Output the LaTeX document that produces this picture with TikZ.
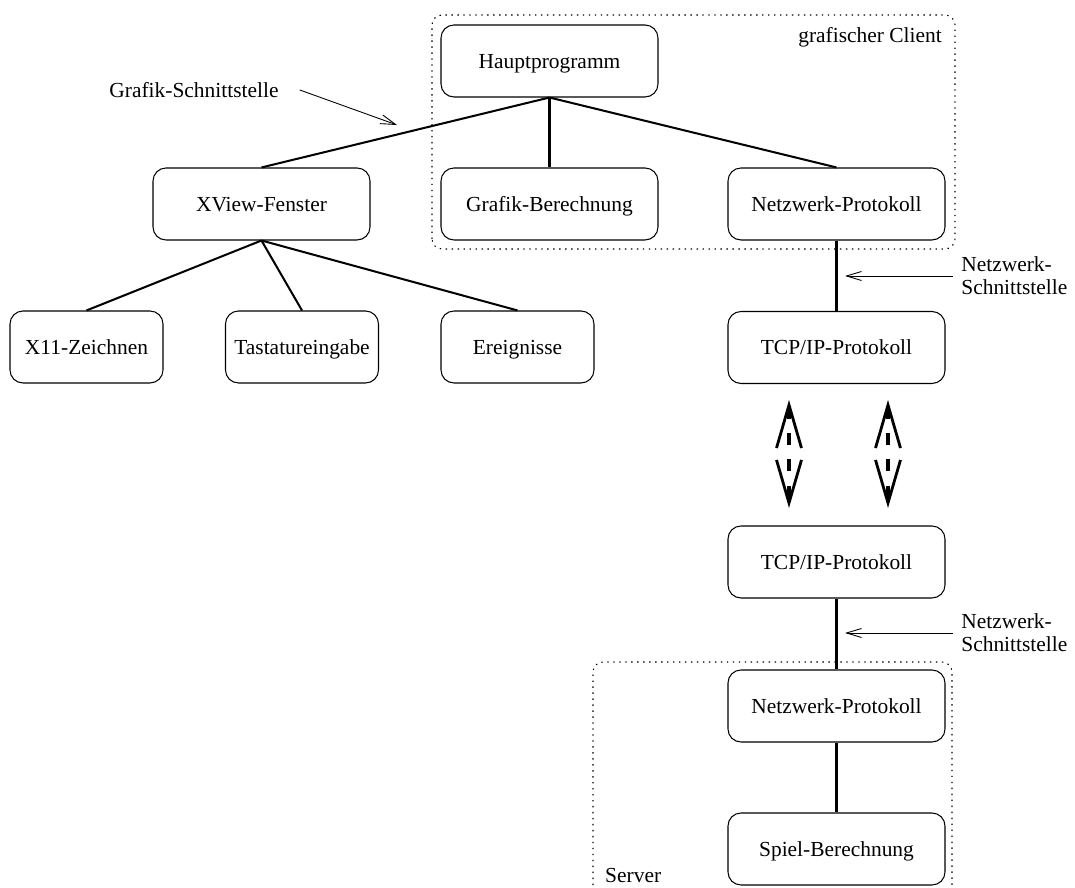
\documentclass[tikz,border=0pt]{standalone}
\usepackage{fontspec}
\setmainfont{Liberation Serif}
\usetikzlibrary{arrows.meta}
\tikzset{
  modul/.style={draw,line width=0.6pt,rounded corners=0.26cm,minimum width=4.34cm,minimum height=1.44cm,inner sep=0pt,text height=8pt,text depth=0pt},
  modulk/.style={modul,minimum width=3.06cm},
  ast/.style={line width=1.15pt},
  zeiger/.style={-{Straight Barb[length=0.3cm,width=0.18cm]},line width=0.5pt},
  netz/.style={{Straight Barb[length=0.86cm,width=0.5cm,line width=1.6pt]}-{Straight Barb[length=0.86cm,width=0.5cm,line width=1.6pt]},line width=1.8pt,dash pattern=on 7pt off 8pt},
  bereich/.style={line width=0.6pt,dash pattern=on 0.8pt off 2.6pt,rounded corners=0.2cm},
}

\begin{document}
\begin{tikzpicture}[font=\fontsize{12.2}{13}\selectfont]
  \useasboundingbox (0,0) rectangle (21.5,17.76);
  % Client
  \draw[bereich] (8.64,12.78) rectangle (19.1,17.46);
  \node[anchor=base east] (client) at (18.96,16.9) {grafischer Client};
  \node[modul] (haupt) at (10.99,16.54) {Hauptprogramm};
  \node[modul] (grafik) at (10.99,13.68) {Grafik-Berechnung};
  \node[modul] (netzc) at (16.73,13.68) {Netzwerk-Protokoll};
  \node[modul] (xview) at (5.23,13.68) {XView-Fenster};
  \node[modulk] (x11) at (1.73,10.82) {X11-Zeichnen};
  \node[modulk] (tast) at (6.04,10.82) {Tastatureingabe};
  \node[modulk] (ereig) at (10.35,10.82) {Ereignisse};
  \node[modul] (tcpc) at (16.73,10.81) {TCP/IP-Protokoll};
  \draw[ast] (haupt.south) -- (grafik.north);
  \draw[ast] (haupt.south) -- (netzc.north);
  \draw[ast] (haupt.south) -- (xview.north);
  \draw[ast] (xview.south) -- (x11.north);
  \draw[ast] (xview.south) -- (tast.north);
  \draw[ast] (xview.south) -- (ereig.north);
  \draw[ast] (netzc.south) -- (tcpc.north);
  % Schnittstellen
  \node (gs) at (3.88,15.96) {Grafik-Schnittstelle};
  \coordinate (gsz) at (7.94,15.26);
  \draw[zeiger] ([xshift=0.3cm]gs.east) -- (gsz);
  \node[anchor=west,align=left,inner sep=0pt] (ns1) at (19.22,12.24) {Netzwerk-\\Schnittstelle};
  \coordinate (nz1) at (16.9,12.24);
  \draw[zeiger] ([xshift=-0.16cm]ns1.west) -- (nz1);
  % Verbindung
  \coordinate (d1o) at (15.78,9.76);
  \coordinate (d1u) at (15.78,7.6);
  \coordinate (d2o) at (17.76,9.76);
  \coordinate (d2u) at (17.76,7.6);
  \draw[netz] (d1o) -- (d1u);
  \draw[netz] (d2o) -- (d2u);
  % Server
  \node[modul] (tcps) at (16.73,6.52) {TCP/IP-Protokoll};
  \node[anchor=west,align=left,inner sep=0pt] (ns2) at (19.22,5.1) {Netzwerk-\\Schnittstelle};
  \coordinate (nz2) at (16.9,5.1);
  \draw[zeiger] ([xshift=-0.16cm]ns2.west) -- (nz2);
  \draw[bereich] (11.86,-0.3) -- (11.86,4.52) -- (19.04,4.52) -- (19.04,-0.3);
  \node[modul] (netzs) at (16.73,3.64) {Netzwerk-Protokoll};
  \node[modul] (spiel) at (16.73,0.78) {Spiel-Berechnung};
  \node[anchor=base west] (server) at (11.98,0.1) {Server};
  \draw[ast] (tcps.south) -- (netzs.north);
  \draw[ast] (netzs.south) -- (spiel.north);
\end{tikzpicture}
\end{document}
